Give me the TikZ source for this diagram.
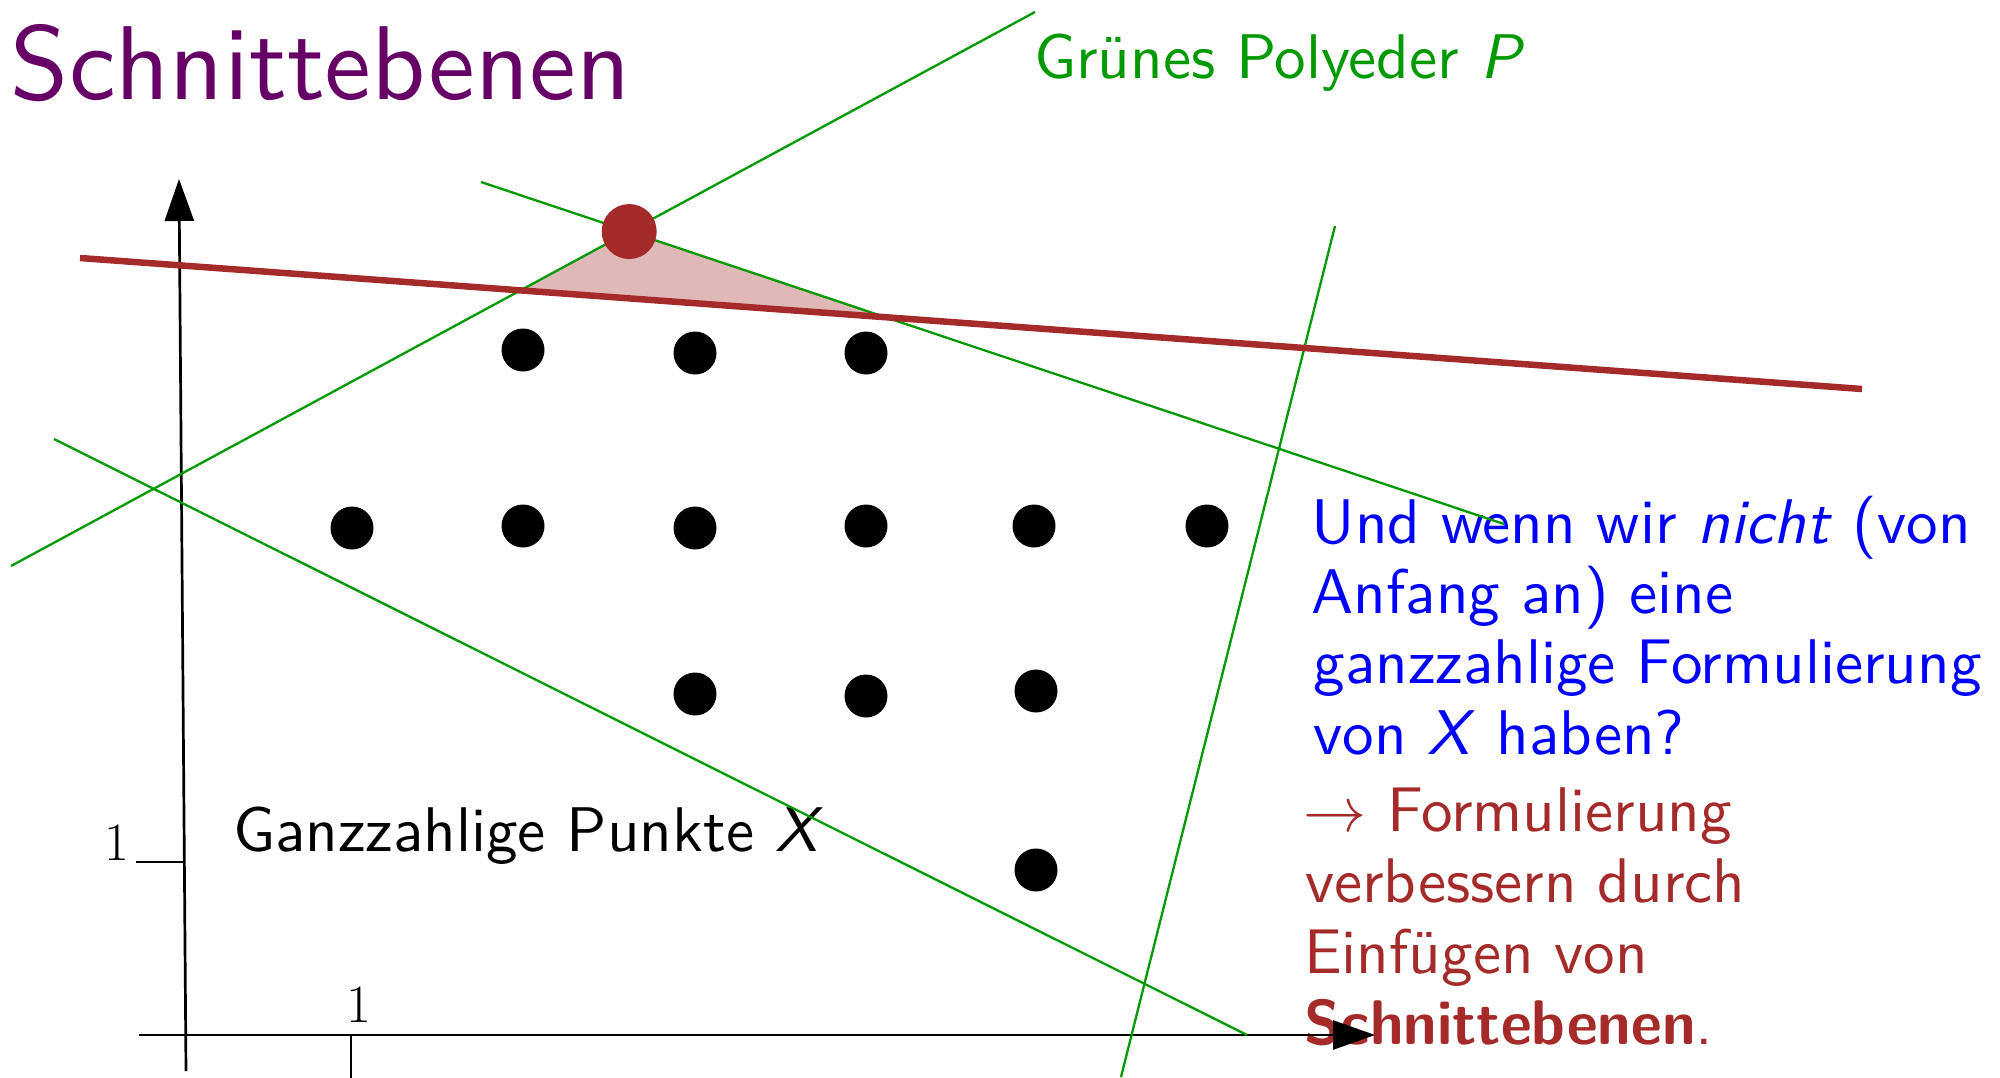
\documentclass[tikz,border=0pt]{standalone}
\usepackage{fix-cm}
\usepackage{fontspec}
\setsansfont{lmsans10}[Extension=.otf, UprightFont=*-regular, BoldFont=*-bold, ItalicFont=*-oblique, BoldItalicFont=*-boldoblique, BoldFeatures={FakeStretch=0.95}]
\usetikzlibrary{arrows.meta}
\definecolor{ttl}{RGB}{102,0,102}
\definecolor{grn}{RGB}{0,153,0}
\definecolor{cut}{RGB}{165,42,42}
\definecolor{cutfill}{RGB}{224,184,184}
\tikzset{
  txt/.style={inner sep=0pt, anchor=base west, font=\sffamily\fontsize{63.1}{70}\selectfont},
  axlab/.style={inner sep=0pt, anchor=base, font=\rmfamily\fontsize{54}{60}\selectfont},
  gline/.style={draw=grn, line width=2.3pt},
  cutline/.style={draw=cut, line width=6.5pt},
  axis/.style={draw=black, line width=2.7pt},
  axarrow/.style={-{Triangle[length=42pt,width=29pt]}},
  pt/.style={circle, fill=black, inner sep=0pt, minimum size=43pt},
  vertex/.style={circle, fill=cut, inner sep=0pt, minimum size=55pt}
}
\begin{document}
\begin{tikzpicture}[x=1pt,y=-1pt]
\useasboundingbox (0,0) rectangle (2000,1077);
% texts
\node[txt, text=ttl, font=\sffamily\fontsize{104.9}{120}\selectfont] (title) at (10.5,99) {Schnittebenen};
\node[txt, text=grn] (gp) at (1034,78) {Grünes Polyeder \textit{P}};
\node[txt] (gx) at (233,851) {Ganzzahlige Punkte \textit{X}};
\node[txt, text=blue] (b1) at (1311.5,543) {Und wenn wir \textit{nicht} (von};
\node[txt, text=blue] (b2) at (1311.5,613) {Anfang an) eine};
\node[txt, text=blue] (b3) at (1313.5,683) {ganzzahlige Formulierung};
\node[txt, text=blue] (b4) at (1313.5,754) {von \textit{X} haben?};
\node[txt, text=cut] (r1) at (1303,831) {$\to$ Formulierung};
\node[txt, text=cut] (r2) at (1305,902) {verbessern durch};
\node[txt, text=cut] (r3) at (1304,973) {Einfügen von};
\node[txt, text=cut] (r4) at (1304,1044) {\textbf{Schnittebenen}.};
\node[axlab] (ly) at (116.5,860) {1};
\node[axlab] (lx) at (358.5,1022) {1};
% line end points
\coordinate (g1a) at (11,566);  \coordinate (g1b) at (1035,12);
\coordinate (g2a) at (481,182); \coordinate (g2b) at (1504,524);
\coordinate (g3a) at (1335,226); \coordinate (g3b) at (1121,1077);
\coordinate (g4a) at (54,439);  \coordinate (g4b) at (1247,1035);
\coordinate (ca) at (80,258);   \coordinate (cb) at (1862,389);
\coordinate (apex) at (intersection of g1a--g1b and g2a--g2b);
\coordinate (tl) at (intersection of g1a--g1b and ca--cb);
\coordinate (tr) at (intersection of g2a--g2b and ca--cb);
% cut-off triangle
\fill[cutfill] (apex) -- (tl) -- (tr) -- cycle;
% axes
\coordinate (ybot) at (186,1071); \coordinate (ytop) at (179,179);
\coordinate (xl) at (139,1035);   \coordinate (xr) at (1375,1035);
\coordinate (tya) at (136,862);   \coordinate (tyb) at (185,862);
\coordinate (txa) at (351,1035);  \coordinate (txb) at (351,1080);
\draw[axis, axarrow] (ybot) -- (ytop);
\draw[axis, axarrow] (xl) -- (xr);
\draw[axis] (tya) -- (tyb);
\draw[axis] (txa) -- (txb);
% polyhedron
\draw[gline] (g1a) -- (g1b);
\draw[gline] (g2a) -- (g2b);
\draw[gline] (g3a) -- (g3b);
\draw[gline] (g4a) -- (g4b);
% cutting plane
\draw[cutline] (ca) -- (cb);
% integer points
\node[pt] (p1) at (523,350) {};
\node[pt] (p2) at (695,353) {};
\node[pt] (p3) at (866,353) {};
\node[pt] (p4) at (352,528) {};
\node[pt] (p5) at (523,526) {};
\node[pt] (p6) at (695,528) {};
\node[pt] (p7) at (866,526) {};
\node[pt] (p8) at (1034,526) {};
\node[pt] (p9) at (1207,526) {};
\node[pt] (p10) at (695,694) {};
\node[pt] (p11) at (866,696) {};
\node[pt] (p12) at (1036,691) {};
\node[pt] (p13) at (1036,870) {};
% fractional vertex
\node[vertex] (v) at (apex) {};
\end{tikzpicture}
\end{document}
